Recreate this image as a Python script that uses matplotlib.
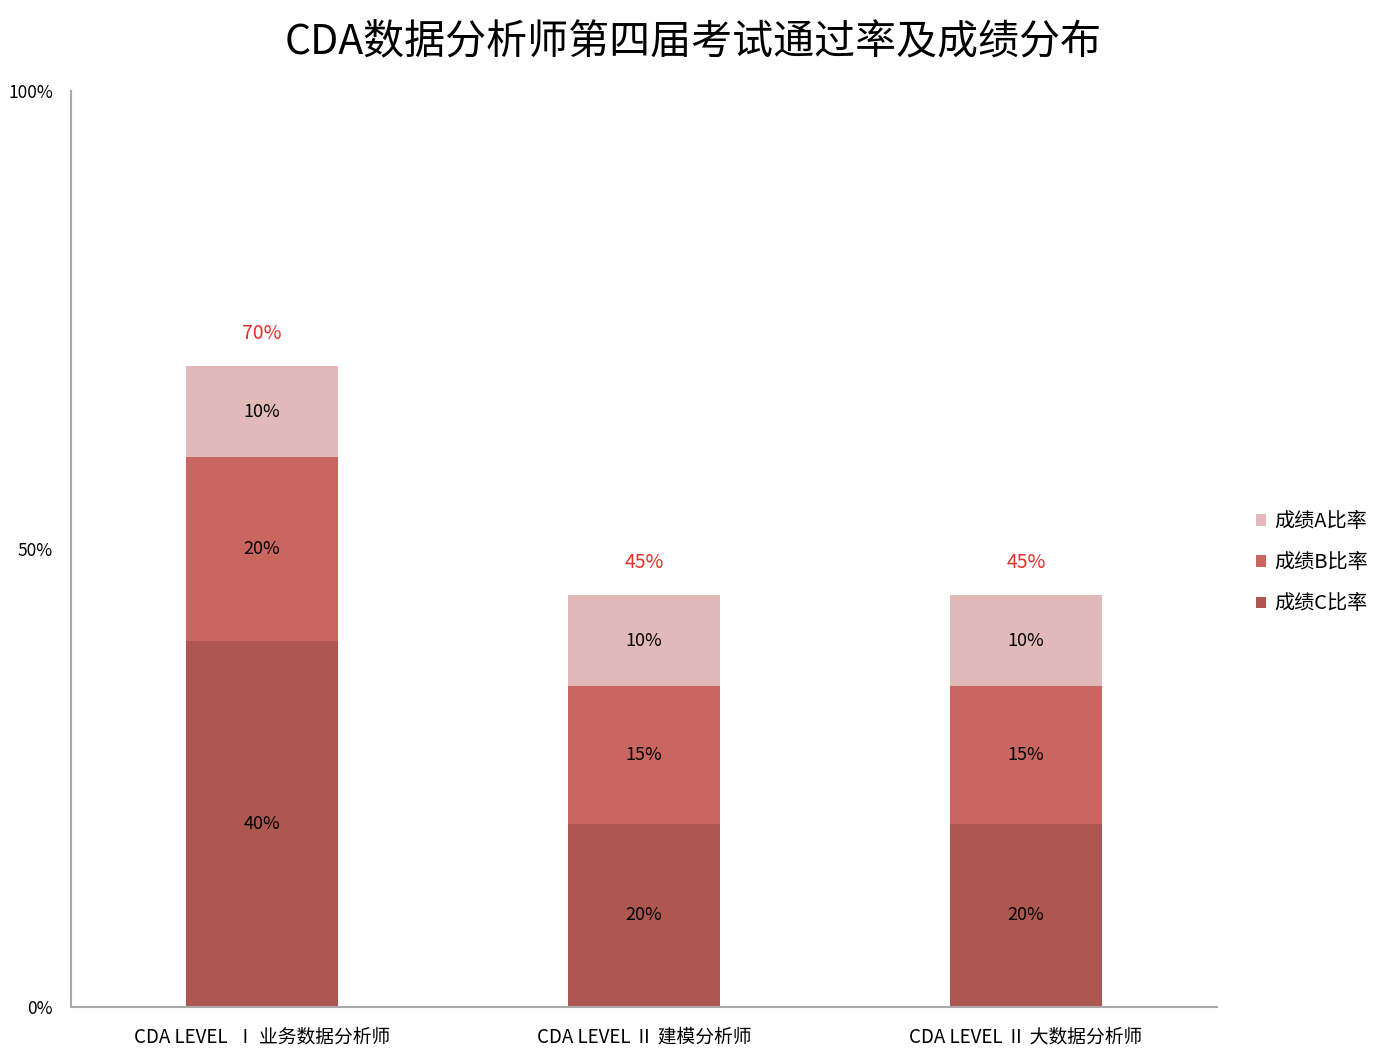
import matplotlib
matplotlib.use("Agg")
import matplotlib.pyplot as plt
import numpy as np

plt.rcParams['font.family'] = ['Noto Sans CJK SC', 'DejaVu Sans']

categories = ["CDA LEVEL  Ⅰ 业务数据分析师", "CDA LEVEL Ⅱ 建模分析师", "CDA LEVEL Ⅱ 大数据分析师"]
rate_c = [40, 20, 20]
rate_b = [20, 15, 15]
rate_a = [10, 10, 10]
totals = [70, 45, 45]
series_names = ["成绩A比率", "成绩B比率", "成绩C比率"]

col_a = "#E0B9B8"
col_b = "#C96660"
col_c = "#AE5751"

fig = plt.figure(figsize=(13.86, 10.56), dpi=100)
ax = fig.add_axes([0.0512, 0.0464, 0.8268, 0.8674])

x = np.arange(len(categories))
w = 0.4
c_arr = np.array(rate_c)
b_arr = np.array(rate_b)
a_arr = np.array(rate_a)

bars_c = ax.bar(x, c_arr, w, color=col_c, label=series_names[2])
bars_b = ax.bar(x, b_arr, w, bottom=c_arr, color=col_b, label=series_names[1])
bars_a = ax.bar(x, a_arr, w, bottom=c_arr + b_arr, color=col_a, label=series_names[0])

for bars, vals in [(bars_c, rate_c), (bars_b, rate_b), (bars_a, rate_a)]:
    ax.bar_label(bars, labels=[f"{v}%" for v in vals], label_type='center',
                 fontsize=13, color='black', fontweight='medium')

for xi, t in zip(x, totals):
    ax.text(xi, t + 3.5, f"{t}%", ha='center', va='center', fontsize=14,
            color='#E0302A', fontweight='medium')

ax.set_xlim(-0.5, 2.5)
ax.set_ylim(0, 100)
ax.set_yticks([0, 50, 100])
ax.set_yticklabels(["0%", "50%", "100%"], fontsize=12.5)
ax.set_xticks(x)
ax.set_xticklabels(categories, fontsize=13.5)
ax.tick_params(axis='y', length=0, pad=13)
ax.tick_params(axis='x', length=0, pad=14)

for s in ['top', 'right']:
    ax.spines[s].set_visible(False)
for s in ['left', 'bottom']:
    ax.spines[s].set_color('#AAAAAA')
    ax.spines[s].set_linewidth(1.5)

handles = [bars_a, bars_b, bars_c]
ax.legend(handles, series_names, loc='center left', bbox_to_anchor=(1.018, 0.485),
          frameon=False, fontsize=14.5, handlelength=0.5, handleheight=0.5,
          handletextpad=0.4, labelspacing=1.0)

fig.text(0.5, 0.959, "CDA数据分析师第四届考试通过率及成绩分布", ha='center', va='center', fontsize=29.5)

fig.savefig("out.png", dpi=100)
